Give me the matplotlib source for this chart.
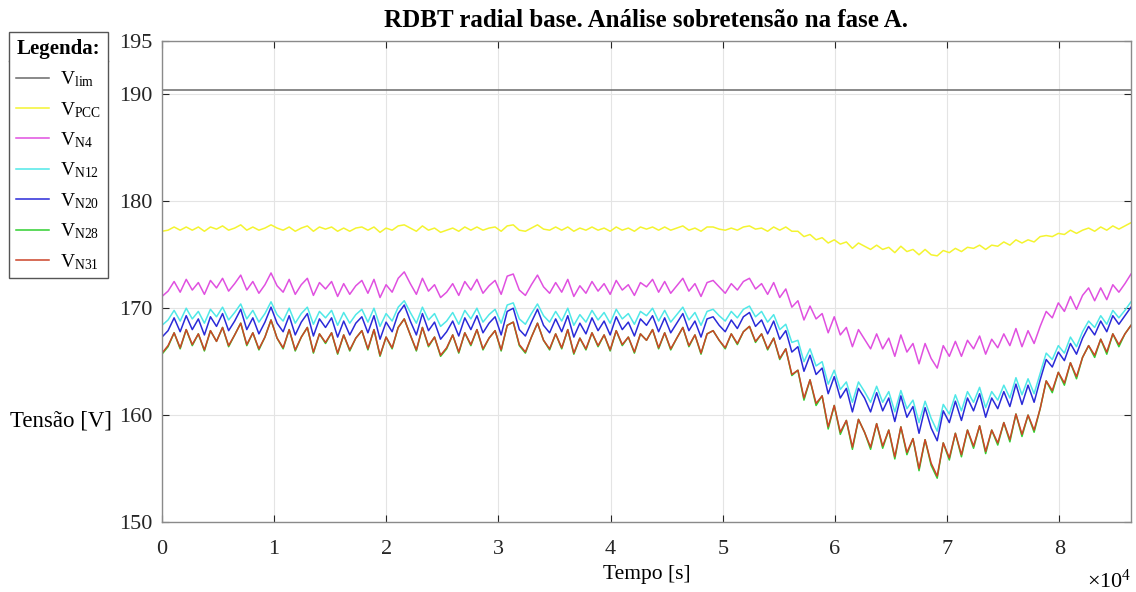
import numpy as np
import matplotlib
matplotlib.use('Agg')
import matplotlib.pyplot as plt
from matplotlib.lines import Line2D

# Time grid (s): one sample every 540 s over a full day
t = np.linspace(0, 86400, 161)

v_lim = [190.4, 190.4]
t_lim = [0, 86400]

v_pcc = [
    177.2, 177.3, 177.6, 177.3, 177.6, 177.3, 177.6, 177.2, 177.6, 177.4,
    177.7, 177.3, 177.5, 177.8, 177.3, 177.6, 177.3, 177.5, 177.8, 177.5,
    177.3, 177.6, 177.2, 177.5, 177.7, 177.2, 177.6, 177.4, 177.6, 177.2,
    177.5, 177.2, 177.5, 177.6, 177.3, 177.6, 177.1, 177.5, 177.3, 177.7,
    177.8, 177.5, 177.2, 177.7, 177.3, 177.5, 177.1, 177.3, 177.5, 177.2,
    177.6, 177.3, 177.6, 177.3, 177.5, 177.6, 177.2, 177.7, 177.8, 177.3,
    177.2, 177.5, 177.8, 177.4, 177.3, 177.6, 177.3, 177.6, 177.2, 177.5,
    177.3, 177.6, 177.3, 177.5, 177.2, 177.6, 177.3, 177.5, 177.2, 177.6,
    177.4, 177.6, 177.3, 177.6, 177.3, 177.5, 177.7, 177.3, 177.5, 177.2,
    177.6, 177.6, 177.4, 177.3, 177.5, 177.3, 177.6, 177.7, 177.4, 177.5,
    177.2, 177.6, 177.3, 177.6, 177.2, 177.2, 176.7, 176.9, 176.4, 176.6,
    176.1, 176.4, 176.0, 176.2, 175.6, 176.1, 175.8, 175.5, 175.9, 175.5,
    175.7, 175.2, 175.8, 175.3, 175.5, 175.0, 175.5, 175.0, 174.9, 175.4,
    175.2, 175.6, 175.3, 175.7, 175.6, 175.9, 175.5, 175.9, 175.8, 176.2,
    175.9, 176.4, 176.1, 176.4, 176.2, 176.7, 176.8, 176.7, 177.0, 176.9,
    177.3, 177.0, 177.3, 177.5, 177.2, 177.6, 177.3, 177.7, 177.4, 177.7,
    178.0,
]

v_n4 = [
    171.1, 171.6, 172.5, 171.5, 172.7, 171.7, 172.4, 171.3, 172.6, 171.9,
    172.8, 171.6, 172.3, 173.1, 171.7, 172.5, 171.4, 172.2, 173.3, 172.1,
    171.5, 172.7, 171.3, 172.2, 172.8, 171.2, 172.4, 171.8, 172.5, 171.1,
    172.3, 171.3, 172.1, 172.6, 171.4, 172.7, 171.0, 172.2, 171.5, 172.8,
    173.4, 172.3, 171.3, 172.8, 171.6, 172.2, 171.0, 171.5, 172.3, 171.2,
    172.5, 171.7, 172.7, 171.4, 172.1, 172.6, 171.3, 173.0, 173.2, 171.7,
    171.2, 172.2, 173.1, 172.0, 171.4, 172.4, 171.5, 172.7, 171.1, 172.1,
    171.4, 172.5, 171.6, 172.3, 171.3, 172.6, 171.7, 172.2, 171.2, 172.4,
    172.0, 172.7, 171.5, 172.5, 171.4, 172.1, 172.8, 171.6, 172.3, 171.1,
    172.4, 172.6, 172.0, 171.4, 172.3, 171.7, 172.5, 172.8, 171.8, 172.3,
    171.3, 172.4, 171.0, 171.8, 170.1, 170.7, 168.9, 170.2, 169.0, 169.5,
    167.7, 169.2, 167.5, 168.2, 166.4, 168.0, 167.1, 166.2, 167.6, 166.2,
    167.2, 165.5, 167.5, 165.9, 166.7, 164.8, 166.7, 165.3, 164.4, 166.5,
    165.5, 166.9, 165.5, 167.0, 166.2, 167.4, 165.7, 167.1, 166.3, 167.6,
    166.5, 168.1, 166.4, 167.9, 166.7, 168.3, 169.7, 169.1, 170.5, 169.7,
    171.1, 169.9, 171.2, 171.9, 170.7, 171.9, 170.8, 172.2, 171.5, 172.3,
    173.2,
]

v_n12 = [
    168.4, 168.9, 169.8, 168.8, 170.0, 169.0, 169.7, 168.6, 169.9, 169.2,
    170.1, 168.9, 169.6, 170.4, 169.0, 169.8, 168.7, 169.5, 170.6, 169.4,
    168.8, 170.0, 168.6, 169.5, 170.1, 168.5, 169.7, 169.1, 169.8, 168.4,
    169.6, 168.6, 169.4, 169.9, 168.7, 170.0, 168.3, 169.5, 168.8, 170.1,
    170.7, 169.6, 168.6, 170.1, 168.9, 169.5, 168.3, 168.8, 169.6, 168.5,
    169.8, 169.0, 170.0, 168.7, 169.4, 169.9, 168.6, 170.3, 170.5, 169.0,
    168.5, 169.5, 170.4, 169.3, 168.7, 169.7, 168.8, 170.0, 168.4, 169.4,
    168.7, 169.8, 168.9, 169.6, 168.6, 169.9, 169.0, 169.5, 168.5, 169.7,
    169.3, 170.0, 168.8, 169.8, 168.7, 169.4, 170.1, 168.9, 169.6, 168.4,
    169.7, 169.9, 169.3, 168.8, 169.7, 169.1, 169.9, 170.2, 169.2, 169.7,
    168.7, 169.4, 168.0, 168.5, 166.8, 167.0, 165.0, 166.2, 164.6, 165.0,
    162.9, 164.2, 162.4, 163.1, 161.2, 163.1, 162.2, 161.2, 162.7, 161.2,
    162.2, 160.3, 162.3, 160.6, 161.4, 159.3, 161.3, 159.7, 158.5, 161.0,
    160.1, 161.9, 160.4, 162.2, 161.2, 162.6, 160.7, 162.2, 161.4, 162.8,
    161.6, 163.5, 161.9, 163.4, 162.0, 163.9, 165.8, 165.2, 166.5, 165.8,
    167.3, 166.4, 167.8, 168.8, 168.2, 169.3, 168.5, 169.8, 169.1, 169.8,
    170.6,
]

v_n20 = [
    167.3, 167.9, 169.1, 167.8, 169.3, 168.0, 169.0, 167.5, 169.2, 168.3,
    169.5, 167.9, 168.8, 169.9, 168.0, 169.1, 167.6, 168.7, 170.1, 168.6,
    167.8, 169.3, 167.5, 168.7, 169.5, 167.4, 169.0, 168.2, 169.1, 167.3,
    168.8, 167.5, 168.6, 169.2, 167.7, 169.3, 167.1, 168.7, 167.8, 169.5,
    170.3, 168.8, 167.5, 169.5, 167.9, 168.7, 167.1, 167.8, 168.8, 167.4,
    169.1, 168.0, 169.3, 167.7, 168.6, 169.2, 167.5, 169.7, 170.0, 168.0,
    167.4, 168.7, 169.9, 168.4, 167.7, 169.0, 167.8, 169.3, 167.3, 168.6,
    167.6, 169.1, 167.9, 168.8, 167.5, 169.2, 168.0, 168.7, 167.4, 169.0,
    168.4, 169.3, 167.8, 169.1, 167.7, 168.6, 169.5, 167.9, 168.8, 167.3,
    169.0, 169.2, 168.4, 167.8, 168.9, 168.1, 169.2, 169.6, 168.3, 168.9,
    167.6, 168.8, 167.1, 167.9, 165.9, 166.4, 164.1, 165.6, 163.8, 164.4,
    162.0, 163.6, 161.6, 162.5, 160.3, 162.5, 161.6, 160.3, 162.1, 160.4,
    161.6, 159.4, 161.8, 159.8, 160.8, 158.3, 160.7, 158.8, 157.6, 160.4,
    159.3, 161.3, 159.5, 161.6, 160.4, 162.0, 159.8, 161.6, 160.6, 162.2,
    160.8, 162.9, 161.0, 162.8, 161.2, 163.3, 165.2, 164.5, 165.9, 165.1,
    166.7, 165.7, 167.2, 168.3, 167.5, 168.8, 167.8, 169.3, 168.5, 169.3,
    170.1,
]

v_n28 = [
    165.7, 166.4, 167.7, 166.2, 168.0, 166.5, 167.6, 166.0, 167.9, 166.9,
    168.2, 166.4, 167.5, 168.6, 166.5, 167.7, 166.1, 167.3, 168.9, 167.2,
    166.2, 168.0, 166.0, 167.3, 168.2, 165.8, 167.6, 166.7, 167.7, 165.7,
    167.5, 166.0, 167.2, 167.9, 166.1, 168.0, 165.5, 167.3, 166.2, 168.2,
    169.0, 167.5, 166.0, 168.2, 166.4, 167.3, 165.5, 166.2, 167.5, 165.8,
    167.7, 166.5, 168.0, 166.1, 167.2, 167.9, 166.0, 168.4, 168.7, 166.5,
    165.8, 167.3, 168.6, 167.0, 166.1, 167.6, 166.2, 168.0, 165.7, 167.2,
    166.1, 167.7, 166.4, 167.5, 166.0, 167.9, 166.5, 167.3, 165.8, 167.6,
    167.0, 168.0, 166.2, 167.7, 166.1, 167.2, 168.2, 166.4, 167.5, 165.7,
    167.6, 167.9, 167.0, 166.2, 167.6, 166.6, 167.8, 168.3, 166.8, 167.6,
    166.1, 167.2, 165.2, 166.2, 163.7, 164.2, 161.4, 163.3, 160.9, 161.8,
    158.7, 160.9, 158.2, 159.5, 156.8, 159.6, 158.4, 156.8, 159.2, 156.9,
    158.6, 155.9, 158.9, 156.3, 157.8, 154.8, 157.7, 155.3, 154.1, 157.4,
    155.8, 158.3, 156.1, 158.6, 156.9, 159.0, 156.4, 158.6, 157.2, 159.3,
    157.5, 160.1, 158.0, 160.0, 158.4, 160.6, 163.2, 162.1, 164.0, 162.8,
    164.9, 163.4, 165.4, 166.5, 165.4, 167.1, 165.7, 167.6, 166.4, 167.6,
    168.4,
]

# N31 starts with a start-up transient at t = 0
v_n31_start = [194.2, 163.9]
v_n31 = [
    165.8, 166.5, 167.7, 166.3, 168.0, 166.6, 167.6, 166.1, 167.9, 166.9,
    168.2, 166.5, 167.5, 168.6, 166.6, 167.7, 166.2, 167.3, 168.9, 167.2,
    166.3, 168.0, 166.1, 167.3, 168.2, 165.9, 167.6, 166.8, 167.7, 165.8,
    167.5, 166.1, 167.2, 167.9, 166.2, 168.0, 165.6, 167.3, 166.3, 168.2,
    169.0, 167.5, 166.1, 168.2, 166.5, 167.3, 165.6, 166.3, 167.5, 165.9,
    167.7, 166.6, 168.0, 166.2, 167.2, 167.9, 166.1, 168.4, 168.7, 166.6,
    165.9, 167.3, 168.6, 167.0, 166.2, 167.6, 166.3, 168.0, 165.8, 167.2,
    166.2, 167.7, 166.5, 167.5, 166.1, 167.9, 166.6, 167.3, 165.9, 167.6,
    167.0, 168.0, 166.3, 167.7, 166.2, 167.2, 168.2, 166.5, 167.5, 165.8,
    167.6, 167.9, 167.0, 166.3, 167.6, 166.7, 167.8, 168.3, 166.9, 167.6,
    166.2, 167.2, 165.3, 166.2, 163.8, 164.2, 161.6, 163.3, 161.1, 161.8,
    158.9, 160.9, 158.4, 159.5, 157.0, 159.6, 158.4, 157.0, 159.2, 157.1,
    158.6, 156.1, 158.9, 156.5, 157.8, 155.0, 157.7, 155.5, 154.3, 157.4,
    156.0, 158.3, 156.3, 158.6, 157.1, 159.0, 156.6, 158.6, 157.4, 159.3,
    157.7, 160.1, 158.2, 160.0, 158.6, 160.6, 163.2, 162.3, 164.0, 163.0,
    164.9, 163.6, 165.4, 166.5, 165.6, 167.1, 165.9, 167.6, 166.6, 167.6,
    168.4,
]

labels = [r'V$_{\mathrm{lim}}$', r'V$_{\mathrm{PCC}}$', r'V$_{\mathrm{N4}}$',
          r'V$_{\mathrm{N12}}$', r'V$_{\mathrm{N20}}$', r'V$_{\mathrm{N28}}$',
          r'V$_{\mathrm{N31}}$']
colors = ['#6a6a6a', '#f4f430', '#e050e0', '#50e8e8', '#2a2ad8', '#30d030', '#cc4428']

xticks = [0, 10000, 20000, 30000, 40000, 50000, 60000, 70000, 80000]
xticklabels = ['0', '1', '2', '3', '4', '5', '6', '7', '8']
yticks = [150, 160, 170, 180, 190, 195]

SERIF = 'Liberation Serif'


def main():
    plt.rcParams['font.family'] = SERIF
    plt.rcParams['mathtext.fontset'] = 'custom'
    plt.rcParams['mathtext.rm'] = SERIF
    plt.rcParams['mathtext.it'] = SERIF + ':italic'

    W, H = 1136, 592
    fig = plt.figure(figsize=(W / 100, H / 100), dpi=100)
    ax = fig.add_axes([162 / W, 1 - 522 / H, 969 / W, 481 / H])

    lw = 1.1
    h = []
    h += ax.plot(t_lim, v_lim, color=colors[0], lw=lw)
    h += ax.plot(t, v_pcc, color=colors[1], lw=lw)
    h += ax.plot(t, v_n4, color=colors[2], lw=lw)
    h += ax.plot(t, v_n12, color=colors[3], lw=lw)
    h += ax.plot(t, v_n20, color=colors[4], lw=lw)
    h += ax.plot(t, v_n28, color=colors[5], lw=lw)
    h += ax.plot(np.r_[0, 0, t], np.r_[v_n31_start, v_n31], color=colors[6], lw=lw)

    ax.set_xlim(0, 86400)
    ax.set_ylim(150, 195)
    ax.set_xticks(xticks)
    ax.set_xticklabels(xticklabels)
    ax.set_yticks(yticks)
    ax.grid(True, color='#e4e4e4', lw=0.8)
    ax.tick_params(direction='in', length=5, width=0.8, colors='#262626',
                   labelsize=16, top=True, right=True)
    ax.tick_params(axis='x', pad=13)
    ax.tick_params(axis='y', pad=7)
    for s in ax.spines.values():
        s.set_color('#8a8a8a')
        s.set_linewidth(1.0)

    ax.set_title('RDBT radial base. Análise sobretensão na fase A.',
                 fontsize=18, fontweight='bold', pad=10)
    ax.set_xlabel('Tempo [s]', fontsize=15.5, labelpad=4)
    ax.set_ylabel('Tensão [V]', fontsize=16.5, rotation=0, ha='center', va='center')
    ax.yaxis.set_label_coords(-0.104, 0.21)
    ax.text(1.0, -0.124, r'$\times 10^{4}$', transform=ax.transAxes,
            ha='right', va='center', fontsize=16)

    leg = fig.legend(h, labels, loc='upper left',
                     bbox_to_anchor=(9 / W, 1 - 32 / H), bbox_transform=fig.transFigure,
                     title='Legenda:', title_fontproperties={'weight': 'bold', 'size': 15},
                     fontsize=14, frameon=True, fancybox=False, edgecolor='#555555',
                     framealpha=1, handlelength=1.7, handletextpad=0.55,
                     labelspacing=0.55, borderpad=0.35, borderaxespad=0)
    leg.get_frame().set_linewidth(1.0)

    # separator line under the legend title
    fig.canvas.draw()
    r = fig.canvas.get_renderer()
    fb = leg.get_frame().get_window_extent(r)
    tb = leg.get_title().get_window_extent(r)
    yl = (tb.y0 - 2) / H
    fig.add_artist(Line2D([fb.x0 / W, fb.x1 / W], [yl, yl], color='#555555', lw=1.0))

    fig.savefig('out.png', dpi=100)


if __name__ == '__main__':
    main()
